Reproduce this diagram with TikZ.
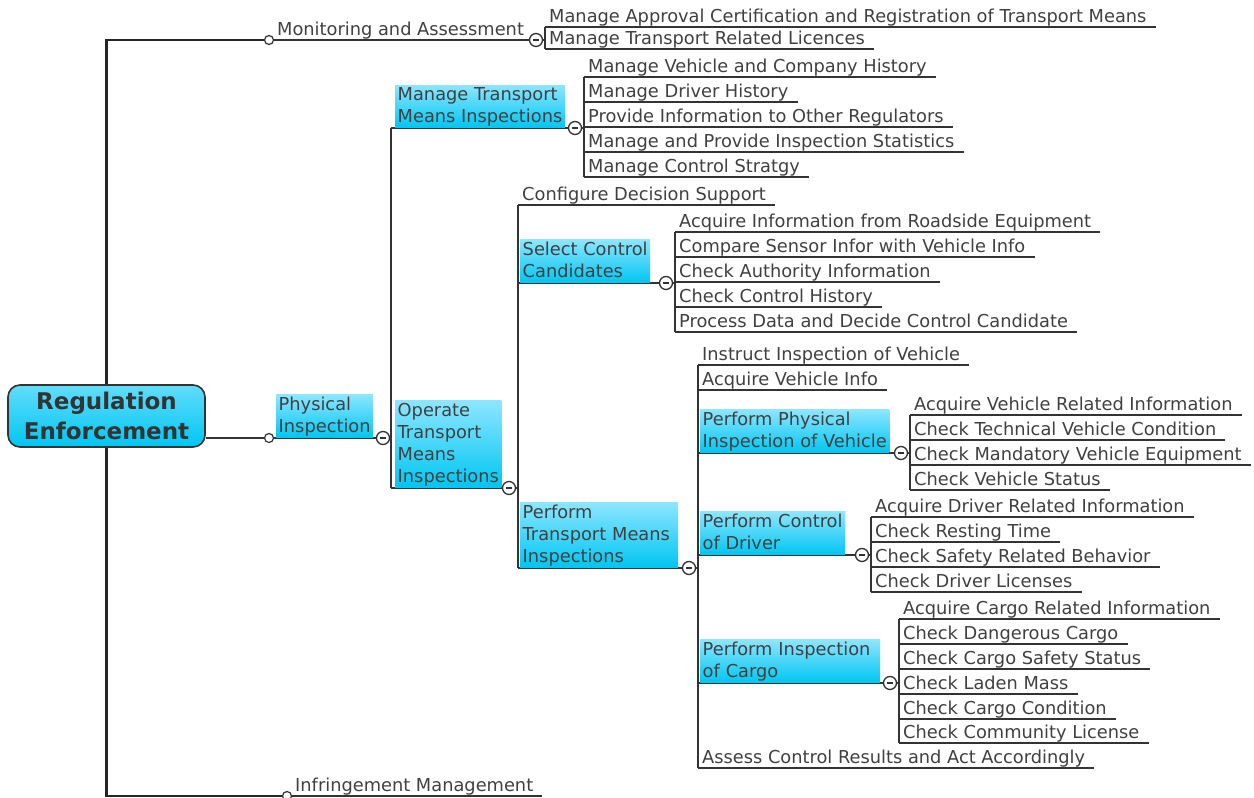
\documentclass[tikz,border=0pt]{standalone}
\usepackage{fontspec}
\setmainfont{DejaVu Sans}
\usetikzlibrary{calc}
\definecolor{ink}{HTML}{404040}
\definecolor{wire}{HTML}{333333}
\definecolor{cyanlo}{HTML}{00C6F2}
\definecolor{cyanhi}{HTML}{8CE6FF}
\pgfdeclarelayer{wires}
\pgfsetlayers{wires,main}

\tikzset{
  every node/.style={font=\fontsize{17.8}{22}\selectfont, text=ink},
  leaf/.style={anchor=south west, inner xsep=4pt, inner ysep=1.5pt,
    text height=13pt, text depth=2.5pt},
  topic/.style={anchor=south west, inner xsep=2.5pt, inner ysep=2pt,
    align=left, top color=cyanhi, bottom color=cyanlo,
    execute at end node={\vphantom{g}}},
  root/.style={rounded corners=12pt, draw=wire, line width=1.6pt,
    top color=cyanhi!70!cyanlo, bottom color=cyanlo, minimum width=197pt,
    minimum height=62pt, align=center, text=ink!80!black,
    font=\fontsize{23}{30}\selectfont\bfseries},
  link/.style={draw=wire, line width=1.6pt},
  uline/.style={link, shorten >=-5pt},
  trunk/.style={draw=black!85, line width=2.6pt},
  knob/.style={circle, draw=wire, fill=white, line width=1.2pt,
    minimum size=9pt, inner sep=0pt},
  fold/.style={circle, draw=wire, fill=white, line width=1.3pt,
    minimum size=13pt, inner sep=0pt,
    path picture={\draw[wire, line width=1.3pt]
      ([xshift=-3.2pt]path picture bounding box.center) --
      ([xshift=3.2pt]path picture bounding box.center);}}
}

\begin{document}
\begin{tikzpicture}[x=1pt,y=-1pt]
\useasboundingbox (0,0) rectangle (1254,798);

% central topic
\node[root] (root) at (106.5,416) {Regulation\\Enforcement};

% junction knobs and fold buttons
\node[knob] (kMon)  at (269,40) {};
\node[fold] (fMon)  at (536,40) {};
\node[knob] (kPhys) at (269,438) {};
\node[fold] (fPhys) at (383,438) {};
\node[fold] (fMtmi) at (575,128) {};
\node[fold] (fOtmi) at (509,488) {};
\node[fold] (fScc)  at (666,283) {};
\node[fold] (fPtmi) at (689,568) {};
\node[fold] (fPpiv) at (901,453) {};
\node[fold] (fPcd)  at (862,555) {};
\node[fold] (fPic)  at (890,683) {};
\node[knob] (kInf)  at (287,796) {};

\coordinate (jPhys) at (391,438);
\coordinate (jOtmi) at (518,488);
\coordinate (jPtmi) at (698,568);

% main branches
\node[leaf]  (mon)  at (273,40)  {Monitoring and Assessment};
\node[leaf]  (inf)  at (291,796) {Infringement Management};
\node[topic] (phys) at (276,438) {Physical\\Inspection};

% monitoring and assessment
\node[leaf] (a1) at (545,27) {Manage Approval Certification and Registration of Transport Means};
\node[leaf] (a2) at (545,49) {Manage Transport Related Licences};

% physical inspection
\node[topic] (mtmi) at (395,128) {Manage Transport\\Means Inspections};
\node[topic] (otmi) at (395,488) {Operate\\Transport\\Means\\Inspections};

\node[leaf] (m1) at (584,77)  {Manage Vehicle and Company History};
\node[leaf] (m2) at (584,102) {Manage Driver History};
\node[leaf] (m3) at (584,127) {Provide Information to Other Regulators};
\node[leaf] (m4) at (584,152) {Manage and Provide Inspection Statistics};
\node[leaf] (m5) at (584,177) {Manage Control Stratgy};

% operate transport means inspections
\node[leaf]  (cds)  at (518,205) {Configure Decision Support};
\node[topic] (scc)  at (520,283) {Select Control\\Candidates};
\node[topic, text width=153pt] (ptmi) at (520,568) {Perform\\Transport Means\\Inspections};

\node[leaf] (s1) at (675,232) {Acquire Information from Roadside Equipment};
\node[leaf] (s2) at (675,257) {Compare Sensor Infor with Vehicle Info};
\node[leaf] (s3) at (675,282) {Check Authority Information};
\node[leaf] (s4) at (675,307) {Check Control History};
\node[leaf] (s5) at (675,332) {Process Data and Decide Control Candidate};

% perform transport means inspections
\node[leaf]  (iiv)  at (698,365) {Instruct Inspection of Vehicle};
\node[leaf]  (avi)  at (698,390) {Acquire Vehicle Info};
\node[topic] (ppiv) at (700,453) {Perform Physical\\Inspection of Vehicle};
\node[topic] (pcd)  at (700,555) {Perform Control\\of Driver};
\node[topic, text width=175pt] (pic) at (700,683) {Perform Inspection\\of Cargo};
\node[leaf]  (acr)  at (698,768) {Assess Control Results and Act Accordingly};

\node[leaf] (v1) at (910,415) {Acquire Vehicle Related Information};
\node[leaf] (v2) at (910,440) {Check Technical Vehicle Condition};
\node[leaf] (v3) at (910,465) {Check Mandatory Vehicle Equipment};
\node[leaf] (v4) at (910,490) {Check Vehicle Status};

\node[leaf] (d1) at (871,517) {Acquire Driver Related Information};
\node[leaf] (d2) at (871,542) {Check Resting Time};
\node[leaf] (d3) at (871,567) {Check Safety Related Behavior};
\node[leaf] (d4) at (871,592) {Check Driver Licenses};

\node[leaf] (c1) at (899,619) {Acquire Cargo Related Information};
\node[leaf] (c2) at (899,644) {Check Dangerous Cargo};
\node[leaf] (c3) at (899,669) {Check Cargo Safety Status};
\node[leaf] (c4) at (899,694) {Check Laden Mass};
\node[leaf] (c5) at (899,719) {Check Cargo Condition};
\node[leaf] (c6) at (899,743) {Check Community License};

\begin{pgfonlayer}{wires}
  % trunk from the central topic
  \draw[trunk] (kMon) -- (kMon -| root) -- (kInf -| root) -- (kInf);
  \draw[link] (root.east |- kPhys) -- (kPhys);
  \draw[link] (kMon) -- (fMon);
  \draw[link] (kPhys) -- (fPhys);
  \draw[uline] (kInf) -- (inf.south east);

  % monitoring and assessment
  \draw[link] (fMon) -- (fMon -| a1.south west);
  \draw[link] (a1.south west) -- (a2.south west);

  % physical inspection
  \draw[link] (fPhys) -- (jPhys);
  \draw[link] (jPhys |- fMtmi) -- (jPhys |- fOtmi);
  \draw[link] (jPhys |- fMtmi) -- (fMtmi);
  \draw[link] (jPhys |- fOtmi) -- (fOtmi);
  \draw[link] (fMtmi) -- (fMtmi -| m1.south west);
  \draw[link] (m1.south west) -- (m5.south west);

  % operate transport means inspections
  \draw[link] (fOtmi) -- (jOtmi);
  \draw[link] (cds.south west) -- (jOtmi |- fPtmi);
  \draw[link] (jOtmi |- fScc) -- (fScc);
  \draw[link] (jOtmi |- fPtmi) -- (fPtmi);
  \draw[link] (fScc) -- (fScc -| s1.south west);
  \draw[link] (s1.south west) -- (s5.south west);

  % perform transport means inspections
  \draw[link] (fPtmi) -- (jPtmi);
  \draw[link] (iiv.south west) -- (acr.south west);
  \draw[link] (jPtmi |- fPpiv) -- (fPpiv);
  \draw[link] (jPtmi |- fPcd) -- (fPcd);
  \draw[link] (jPtmi |- fPic) -- (fPic);
  \draw[link] (fPpiv) -- (fPpiv -| v1.south west);
  \draw[link] (v1.south west) -- (v4.south west);
  \draw[link] (fPcd) -- (fPcd -| d1.south west);
  \draw[link] (d1.south west) -- (d4.south west);
  \draw[link] (fPic) -- (fPic -| c1.south west);
  \draw[link] (c1.south west) -- (c6.south west);

  % underlines of the leaf topics
  \foreach \n in {a1,a2,m1,m2,m3,m4,m5,cds,s1,s2,s3,s4,s5,iiv,avi,acr,
                  v1,v2,v3,v4,d1,d2,d3,d4,c1,c2,c3,c4,c5,c6}
    \draw[uline] (\n.south west) -- (\n.south east);
\end{pgfonlayer}
\end{tikzpicture}
\end{document}
